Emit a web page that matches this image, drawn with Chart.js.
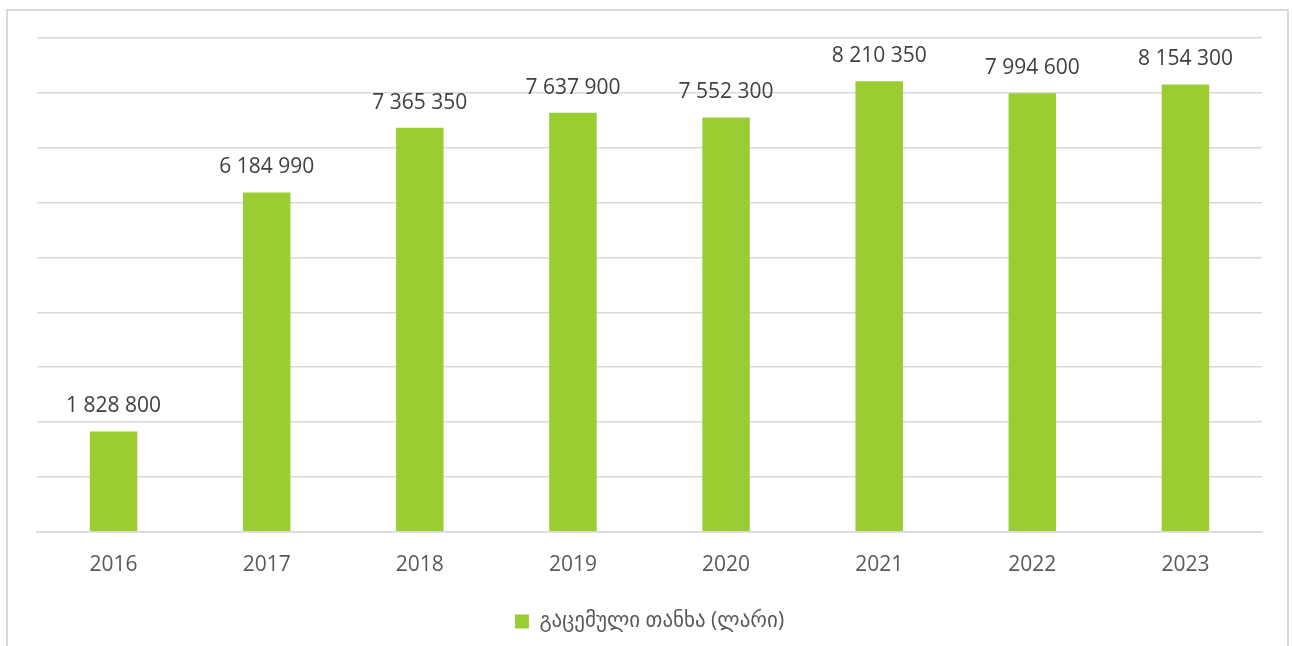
<!DOCTYPE html>
<html>
<head>
<meta charset="utf-8">
<script src="https://cdn.jsdelivr.net/npm/chart.js@4/dist/chart.umd.min.js"></script>
<style>
  html, body { margin: 0; padding: 0; background: #fff; }
  #frame {
    position: absolute; left: 6px; top: 9px; width: 1283px; height: 660px;
    border: 2px solid #d9d9d9; box-sizing: border-box;
  }
  #wrap { position: absolute; left: 0; top: 0; width: 1292px; height: 646px; }
</style>
</head>
<body>
<div id="frame"></div>
<div id="wrap"><canvas id="myChart" width="1292" height="646"></canvas></div>
<script>
const years = ["2016", "2017", "2018", "2019", "2020", "2021", "2022", "2023"];
const amounts = [1828800, 6184990, 7365350, 7637900, 7552300, 8210350, 7994600, 8154300];
const seriesName = "გაცემული თანხა (ლარი)";

const fontFamily = "'Open Sans', 'DejaVu Sans', sans-serif";

const formatNumber = (n) => String(n).replace(/\B(?=(\d{3})+(?!\d))/g, " ");

// simple value labels above each bar
const barLabels = {
  id: "barLabels",
  afterDatasetsDraw(chart) {
    const ctx = chart.ctx;
    const meta = chart.getDatasetMeta(0);
    ctx.save();
    ctx.font = "21px " + fontFamily;
    ctx.fillStyle = "#404040";
    ctx.textAlign = "center";
    ctx.textBaseline = "alphabetic";
    meta.data.forEach((bar, i) => {
      ctx.fillText(formatNumber(amounts[i]), bar.x, bar.y - 19);
    });
    ctx.restore();
  },
};

// nudge the legend up a little
const legendShift = {
  id: "legendShift",
  afterLayout(chart) {
    if (chart.legend) {
      chart.legend.top -= 4;
      chart.legend.bottom -= 4;
    }
  },
};

const ctx = document.getElementById("myChart").getContext("2d");
const config = {
  type: "bar",
  data: {
    labels: years,
    datasets: [
      {
        label: seriesName,
        data: amounts,
        backgroundColor: "#9acd32",
        borderWidth: 0,
        barPercentage: 0.62,
        categoryPercentage: 0.5,
      },
    ],
  },
  options: {
    responsive: false,
    animation: false,
    layout: {
      padding: { left: 37, right: 30, top: 38, bottom: 0 },
    },
    scales: {
      y: {
        min: 0,
        max: 9000000,
        ticks: { display: false, stepSize: 1000000 },
        grid: { color: "#d9d9d9", lineWidth: 1.5, drawTicks: false },
        border: { display: false },
      },
      x: {
        grid: { display: false, drawTicks: false },
        border: { color: "#d9d9d9", width: 1.5 },
        ticks: {
          color: "#595959",
          padding: 21,
          font: { size: 21, family: fontFamily },
        },
      },
    },
    plugins: {
      legend: {
        position: "bottom",
        labels: {
          color: "#595959",
          boxWidth: 14,
          boxHeight: 14,
          padding: 16,
          font: { size: 21, family: fontFamily },
        },
      },
      tooltip: { enabled: false },
    },
  },
  plugins: [barLabels, legendShift],
};
const myChart = new Chart(ctx, config);
</script>
</body>
</html>
